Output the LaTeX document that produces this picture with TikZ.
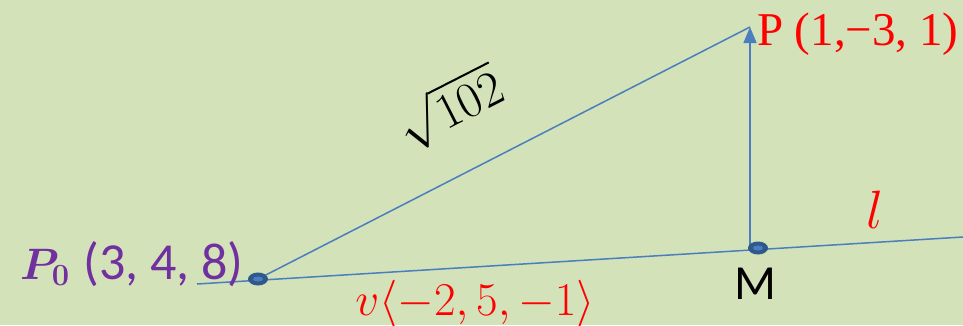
\RequirePackage{fix-cm}
\documentclass[tikz,border=0pt]{standalone}
\usepackage{bm}
\usepackage{fontspec}
\newfontfamily\calfont{Carlito}
\newfontfamily\tnrfont{Liberation Serif}
\usetikzlibrary{arrows.meta}
\definecolor{bgc}{RGB}{211,226,185}
\definecolor{linec}{RGB}{74,126,190}
\definecolor{dotc}{RGB}{47,88,140}
\definecolor{purp}{RGB}{112,48,160}
\definecolor{redc}{RGB}{255,0,0}
\tikzset{
  ln/.style={draw=linec, line width=1.5pt},
  lbl/.style={inner sep=0pt, outer sep=0pt}
}
\begin{document}
\begin{tikzpicture}[x=1pt,y=-1pt]
\fill[bgc] (0,0) rectangle (963,325);
\useasboundingbox (0,0) rectangle (963,325);
\coordinate (lA) at (197,284);
\coordinate (lB) at (963,237);
\coordinate (P0) at (258,279);
\coordinate (M) at (758,248);
\coordinate (Mv) at (750,248);
\coordinate (P) at (750,27);
\draw[ln] (lA) -- (lB);
\draw[ln] (P0) -- (P);
\draw[ln, -{Triangle[length=16pt,width=13pt]}] (Mv) -- (P);
\foreach \c in {P0,M}{
  \fill[dotc] (\c) ellipse (10 and 6.5);
  \fill[linec] (\c) ellipse (5 and 2.5);
}
\node[lbl, anchor=base west, text=purp] (p0l) at (20,279)
  {\fontsize{44}{48}\selectfont$\bm{P_0}$\hspace{14pt}\fontsize{52}{56}\selectfont\calfont(3, 4, 8)};
\node[lbl, anchor=base west, text=redc] (pl) at (757,45)
  {\fontsize{47}{50}\selectfont\tnrfont P (1,\textminus3, 1)};
\node[lbl, anchor=base, text=black] (ml) at (755,299)
  {\fontsize{49}{52}\selectfont\calfont M};
\node[lbl, anchor=base, text=redc] (ll) at (875,228)
  {\fontsize{54}{58}\selectfont$l$};
\node[lbl, anchor=base, text=redc] (vl) at (475,315)
  {\fontsize{47}{52}\selectfont$v\langle -2, 5, -1\rangle$};
\node[lbl, rotate=27, text=black] (dl) at (450,108)
  {\fontsize{50}{54}\selectfont$\sqrt{102}$};
\end{tikzpicture}
\end{document}
